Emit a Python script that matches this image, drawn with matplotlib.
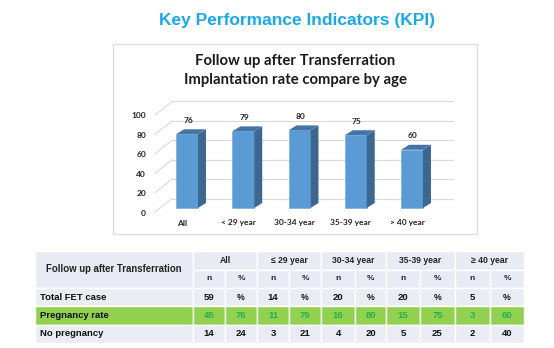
import matplotlib
matplotlib.use("Agg")
import matplotlib.pyplot as plt
from matplotlib.patches import Rectangle, Polygon

# ---------------- data ----------------
categories = ["All", "< 29 year", "30-34 year", "35-39 year", "> 40 year"]
rates = [76, 79, 80, 75, 60]
yticks = [0, 20, 40, 60, 80, 100]

table_title = "Follow up after Transferration"
table_groups = ["All", "\u2264 29 year", "30-34 year", "35-39 year", "\u2265 40 year"]
sub_headers = ["n", "%"]
row_labels = ["Total FET case", "Pregnancy rate", "No pregnancy"]
total_n = [59, 14, 20, 20, 5]
total_pct = ["%", "%", "%", "%", "%"]
preg_n = [45, 11, 16, 15, 3]
preg_pct = [76, 79, 80, 75, 60]
nopreg_n = [14, 3, 4, 5, 2]
nopreg_pct = [24, 21, 20, 25, 40]

W, H = 554, 348
fig = plt.figure(figsize=(W / 100, H / 100), dpi=100)

# background axes in pixel coordinates
bg = fig.add_axes([0, 0, 1, 1])
bg.set_xlim(0, W)
bg.set_ylim(H, 0)
bg.axis("off")

SANS = ["Liberation Sans", "DejaVu Sans"]
CAL = ["Lato", "DejaVu Sans"]

bg.text(297, 20, "Key Performance Indicators (KPI)", ha="center", va="center",
        fontsize=12.5, fontweight="bold", color="#19a9ea", family=SANS)

# chart box
bg.add_patch(Rectangle((113, 44), 364, 190, facecolor="white",
                       edgecolor="#dedede", lw=1.0))
bg.text(295, 61, "Follow up after Transferration", ha="center", va="center",
        fontsize=10.7, fontweight="bold", color="#1a1a1a", family=CAL)
bg.text(295, 80, "Implantation rate compare by age", ha="center", va="center",
        fontsize=10.7, fontweight="bold", color="#1a1a1a", family=CAL)

# ---------------- bar axes ----------------
XPX, YPX = 56.25, 0.97
x0c, y0f = 187.0, 208.0
xlo, xhi = -0.7, 4.75
ylo, yhi = -12, 110
lpx = x0c + xlo * XPX
rpx = x0c + xhi * XPX
bpx = y0f - ylo * YPX
tpx = y0f - yhi * YPX
ax = fig.add_axes([lpx / W, 1 - bpx / H, (rpx - lpx) / W, (bpx - tpx) / H])
ax.set_xlim(xlo, xhi)
ax.set_ylim(ylo, yhi)
ax.axis("off")
ax.patch.set_visible(False)

px_x = lambda p: p / XPX
px_y = lambda p: p / YPX

grid_c = "#dadada"
xa = px_x(172 - x0c)
xb = px_x(453 - x0c)
xs = px_x(155 - x0c)
for v in yticks:
    ax.plot([xa, xb], [v + px_y(9.5), v + px_y(9.5)], color=grid_c, lw=0.8,
            zorder=1, clip_on=False)
    ax.plot([xs, xa], [v - px_y(4), v + px_y(9.5)], color=grid_c, lw=0.8,
            zorder=1, clip_on=False)
    ax.text(px_x(146 - x0c), v - px_y(5), str(v), ha="right", va="center",
            fontsize=6, fontweight="bold", color="#222222", family=CAL,
            clip_on=False)

xpos = list(range(len(categories)))
bw = 0.39
dx, dy = px_x(8), px_y(5)
ax.bar(xpos, rates, width=bw, color="#5b9bd5", edgecolor="#6fa8dc",
       lw=0.4, zorder=3)
for x, v in zip(xpos, rates):
    r = x + bw / 2
    l = x - bw / 2
    ax.add_patch(Polygon([(r, 0), (r + dx, dy), (r + dx, v + dy), (r, v)],
                         closed=True, facecolor="#3b6791", edgecolor="none",
                         zorder=3))
    ax.add_patch(Polygon([(l, v), (r, v), (r + dx, v + dy), (l + dx, v + dy)],
                         closed=True, facecolor="#4473a6", edgecolor="none",
                         zorder=3))
    ax.text(x + px_x(1), v + px_y(14), str(v), ha="center", va="center",
            fontsize=6, fontweight="bold", color="#222222", family=CAL)

for x, c in zip(xpos, categories):
    ax.text(x - px_x(5), -px_y(15), c, ha="center", va="center", fontsize=6,
            fontweight="bold", color="#222222", family=CAL, clip_on=False)

# ---------------- table ----------------
tbl_left, tbl_right = 35, 524
col1 = 193
sub_edges = [193, 225, 257, 289, 321, 355, 386, 420, 455, 490, 524]
rows_y = [251, 270, 288, 306, 324.5, 343]
hdr_c = "#e8ebf3"
body_c = "#eaecf3"
green_c = "#92d050"
gtext = "#22b14c"
fs_hdr = 6.2
fs_sub = 6.0
fs_body = 6.8

# cell backgrounds
bg.add_patch(Rectangle((tbl_left, rows_y[0]), col1 - tbl_left,
                       rows_y[2] - rows_y[0], facecolor=hdr_c, edgecolor="white", lw=1.0))
for g in range(5):
    xl = sub_edges[2 * g]
    xr = sub_edges[2 * g + 2]
    bg.add_patch(Rectangle((xl, rows_y[0]), xr - xl, rows_y[1] - rows_y[0],
                           facecolor=hdr_c, edgecolor="white", lw=1.0))
    bg.text((xl + xr) / 2, (rows_y[0] + rows_y[1]) / 2, table_groups[g],
            ha="center", va="center", fontsize=fs_hdr, fontweight="bold",
            color="#222222", family=SANS)
    for s in range(2):
        a, b = sub_edges[2 * g + s], sub_edges[2 * g + s + 1]
        bg.add_patch(Rectangle((a, rows_y[1]), b - a, rows_y[2] - rows_y[1],
                               facecolor=hdr_c, edgecolor="white", lw=1.0))
        bg.text((a + b) / 2, (rows_y[1] + rows_y[2]) / 2, sub_headers[s],
                ha="center", va="center", fontsize=fs_sub, fontweight="bold",
                color="#222222", family=SANS)
bg.text((tbl_left + col1) / 2, (rows_y[0] + rows_y[2]) / 2, table_title,
        ha="center", va="center", fontsize=6.9, fontweight="bold",
        color="#222222", family=SANS)

body = [(total_n, total_pct), (preg_n, preg_pct), (nopreg_n, nopreg_pct)]
for r, (label, (ns, ps)) in enumerate(zip(row_labels, body)):
    yt, yb = rows_y[2 + r], rows_y[3 + r]
    face = green_c if r == 1 else body_c
    tc = gtext if r == 1 else "#111111"
    bg.add_patch(Rectangle((tbl_left, yt), col1 - tbl_left, yb - yt,
                           facecolor=face, edgecolor="white", lw=1.0))
    bg.text(tbl_left + 5, (yt + yb) / 2, label, ha="left", va="center",
            fontsize=fs_body, fontweight="bold", color="#111111", family=SANS)
    for g in range(5):
        for s, val in enumerate((ns[g], ps[g])):
            a, b = sub_edges[2 * g + s], sub_edges[2 * g + s + 1]
            bg.add_patch(Rectangle((a, yt), b - a, yb - yt, facecolor=face,
                                   edgecolor="white", lw=1.0))
            fsz = fs_sub + 0.3 if val == "%" else fs_body
            bg.text((a + b) / 2, (yt + yb) / 2, str(val), ha="center",
                    va="center", fontsize=fsz, fontweight="bold",
                    color=tc, family=SANS)

fig.savefig("out.png", dpi=100)
